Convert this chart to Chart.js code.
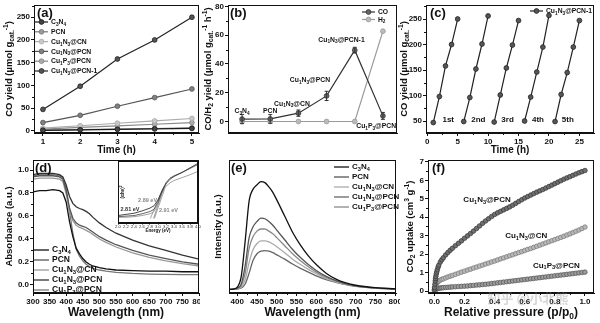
<!DOCTYPE html>
<html>
<head>
<meta charset="utf-8">
<script src="https://cdn.jsdelivr.net/npm/chart.js@4/dist/chart.umd.min.js"></script>
<style>
  body { margin: 0; background: #fff; }
  #fig { position: relative; width: 600px; height: 323px; overflow: hidden; }
  #fig canvas { position: absolute; }
</style>
</head>
<body>
<div id="fig">
  <canvas id="pa"></canvas>
  <canvas id="pb"></canvas>
  <canvas id="pc"></canvas>
  <canvas id="pd"></canvas>
  <canvas id="pdi"></canvas>
  <canvas id="pe"></canvas>
  <canvas id="pf"></canvas>
</div>
<script>
// (a) CO yield vs time
const hours = [1, 2, 3, 4, 5];
const yieldC3N4 = [1.0, 2.0, 3.1, 4.0, 5.0];
const yieldPCN = [1.3, 2.6, 3.8, 4.9, 6.2];
const yieldCuNCN = [5.6, 11, 16.5, 21.5, 27];
const yieldCuNPCN = [18, 34, 54, 73, 92];
const yieldCuPPCN = [3.6, 7.2, 10.8, 14.3, 18];
const yieldCuNPCN1 = [47, 98, 158, 200, 250];

// (b) CO / H2 rates
const catalysts = ['C_3N_4', 'PCN', 'Cu_1N_3@CN', 'Cu_1N_3@PCN', 'Cu_1N_3@PCN-1', 'Cu_1P_3@PCN'];
const coRate = [1.7, 1.8, 5.8, 17.8, 49.6, 3.9];
const coErr = [3.2, 3.0, 2.2, 3.2, 2.0, 2.4];
const h2Rate = [0, 0, 0, 0, 0, 62.8];

// (c) cycling runs
const runNames = ['1st', '2nd', '3rd', '4th', '5th'];
const runHours = [1, 2, 3, 4, 5, 6, 7, 8, 9, 10, 11, 12, 13, 14, 15, 16, 17, 18, 19, 20, 21, 22, 23, 24, 25];
const runYield = [47, 98, 158, 200, 250, 49, 96, 152, 201, 256, 48, 101, 154, 199, 247, 50, 97, 146, 195, 257, 49, 102, 145, 195, 247];

// (d) UV-vis absorbance
const absWl = [300, 320, 340, 360, 380, 390, 400, 410, 420, 430, 440, 450, 460, 470, 480, 500, 520, 550, 600, 650, 700, 750, 800];
const absC3N4 = [0.81, 0.82, 0.82, 0.83, 0.82, 0.80, 0.72, 0.55, 0.42, 0.32, 0.27, 0.23, 0.20, 0.18, 0.165, 0.15, 0.14, 0.13, 0.125, 0.12, 0.12, 0.115, 0.115];
const absPCN = [0.94, 0.95, 0.95, 0.95, 0.94, 0.92, 0.82, 0.67, 0.58, 0.54, 0.52, 0.51, 0.50, 0.48, 0.46, 0.42, 0.39, 0.35, 0.30, 0.26, 0.23, 0.20, 0.18];
const absCuNCN = [0.92, 0.93, 0.93, 0.93, 0.92, 0.90, 0.79, 0.64, 0.56, 0.52, 0.50, 0.49, 0.475, 0.46, 0.44, 0.40, 0.37, 0.33, 0.28, 0.24, 0.21, 0.185, 0.165];
const absCuNPCN = [0.96, 0.97, 0.97, 0.97, 0.96, 0.94, 0.87, 0.77, 0.71, 0.68, 0.665, 0.655, 0.64, 0.62, 0.59, 0.54, 0.50, 0.45, 0.39, 0.34, 0.30, 0.26, 0.225];
const absCuPPCN = [0.95, 0.96, 0.96, 0.96, 0.95, 0.93, 0.84, 0.64, 0.45, 0.31, 0.25, 0.21, 0.18, 0.16, 0.145, 0.13, 0.12, 0.11, 0.10, 0.095, 0.092, 0.09, 0.09];

// (d) inset, Tauc plot
const egE = [2.0, 2.2, 2.4, 2.6, 2.8, 2.9, 3.0, 3.1, 3.2, 3.3, 3.4, 3.6, 3.8, 4.0];
const egA = [0.05, 0.07, 0.09, 0.13, 0.18, 0.22, 0.32, 0.48, 0.62, 0.70, 0.74, 0.80, 0.88, 0.96];
const egB = [0.03, 0.04, 0.05, 0.08, 0.12, 0.16, 0.28, 0.46, 0.60, 0.68, 0.73, 0.80, 0.87, 0.94];
const egC = [0.02, 0.02, 0.03, 0.05, 0.08, 0.12, 0.25, 0.44, 0.56, 0.62, 0.66, 0.71, 0.76, 0.82];
const egGap = [2.81, 2.89, 2.91];
const egTangentTop = [[3.12, 0.52], [3.15, 0.56], [3.16, 0.50]];

// (e) PL spectra
const plWl = [380, 390, 400, 410, 420, 430, 440, 450, 460, 470, 480, 490, 500, 520, 540, 560, 580, 600, 625, 650, 675, 700, 750, 800];
const plC3N4 = [0, 0.3, 2, 12, 45, 82, 93, 97, 100, 99, 95, 90, 83, 68, 53, 41, 31, 23, 15, 9.5, 6, 3.8, 1.5, 0.5];
const plPCN = [0, 0.2, 1, 5, 22, 48, 58, 63, 66, 65.5, 63, 59.5, 55, 46, 37, 29.5, 23, 17.5, 12, 8, 5, 3.2, 1.3, 0.5];
const plCuNCN = [0, 0.1, 0.5, 2, 9, 25, 37, 42.5, 45, 45, 44, 42, 39.5, 34, 28, 23, 18.5, 14.5, 10, 7, 4.5, 3, 1.2, 0.5];
const plCuNPCN = [0, 0.1, 0.3, 1.2, 5, 15, 27, 33, 35.5, 36, 35.5, 34, 32, 28, 23.5, 19.5, 16, 12.5, 9, 6.5, 4.3, 2.8, 1.1, 0.5];
const plCuPPCN = [0, 0.2, 0.8, 3.5, 15, 38, 49, 54, 56, 56, 54, 51.5, 48, 40.5, 33, 26.5, 21, 16, 11, 7.5, 4.8, 3, 1.2, 0.5];

// (f) CO2 adsorption
const relP = [0.001, 0.002, 0.004, 0.006, 0.008, 0.010, 0.013, 0.016, 0.020, 0.025, 0.030, 0.040, 0.050, 0.060, 0.075, 0.09, 0.105, 0.12, 0.14, 0.16, 0.18, 0.20, 0.22, 0.24, 0.26, 0.28, 0.30, 0.32, 0.34, 0.36, 0.38, 0.40, 0.42, 0.44, 0.46, 0.48, 0.50, 0.52, 0.54, 0.56, 0.58, 0.60, 0.62, 0.64, 0.66, 0.68, 0.70, 0.72, 0.74, 0.76, 0.78, 0.80, 0.82, 0.84, 0.86, 0.88, 0.90, 0.92, 0.94, 0.96, 0.98, 1.00];
const upCuNPCN = [0.10, 0.20, 0.38, 0.55, 0.68, 0.80, 0.93, 1.04, 1.16, 1.30, 1.41, 1.58, 1.70, 1.81, 1.96, 2.09, 2.21, 2.32, 2.46, 2.59, 2.72, 2.86, 2.99, 3.12, 3.25, 3.39, 3.53, 3.67, 3.80, 3.92, 4.04, 4.15, 4.24, 4.32, 4.40, 4.48, 4.56, 4.65, 4.75, 4.85, 4.95, 5.04, 5.12, 5.20, 5.28, 5.36, 5.43, 5.50, 5.58, 5.66, 5.74, 5.82, 5.90, 5.98, 6.06, 6.13, 6.20, 6.27, 6.34, 6.41, 6.47, 6.53];
const upCuNCN = [0.05, 0.10, 0.18, 0.25, 0.30, 0.35, 0.40, 0.44, 0.48, 0.52, 0.55, 0.60, 0.64, 0.67, 0.72, 0.77, 0.81, 0.85, 0.91, 0.97, 1.03, 1.08, 1.14, 1.19, 1.25, 1.30, 1.36, 1.41, 1.47, 1.52, 1.58, 1.63, 1.69, 1.75, 1.80, 1.86, 1.92, 1.97, 2.03, 2.09, 2.14, 2.20, 2.26, 2.31, 2.37, 2.43, 2.49, 2.55, 2.61, 2.67, 2.73, 2.79, 2.85, 2.91, 2.97, 3.04, 3.10, 3.17, 3.24, 3.31, 3.39, 3.47];
const upCuPPCN = [0.02, 0.04, 0.07, 0.09, 0.10, 0.11, 0.12, 0.13, 0.14, 0.15, 0.16, 0.17, 0.18, 0.19, 0.20, 0.21, 0.22, 0.23, 0.24, 0.25, 0.26, 0.27, 0.28, 0.30, 0.31, 0.33, 0.34, 0.36, 0.37, 0.39, 0.41, 0.43, 0.45, 0.47, 0.49, 0.51, 0.53, 0.55, 0.57, 0.59, 0.61, 0.63, 0.65, 0.67, 0.69, 0.71, 0.73, 0.75, 0.77, 0.79, 0.81, 0.83, 0.85, 0.87, 0.89, 0.91, 0.93, 0.95, 0.97, 0.99, 1.01, 1.03];

const FONT = '"Liberation Sans", Arial, Helvetica, sans-serif';
Chart.defaults.font.family = FONT;
Chart.defaults.font.weight = 'bold';
Chart.defaults.color = '#111';
Chart.defaults.animation = false;
Chart.defaults.responsive = false;
Chart.defaults.plugins.legend.display = false;
Chart.defaults.plugins.tooltip.enabled = false;

// text with _sub and ^sup parts
function richParts(s) {
    const out = [];
    let cur = '', i = 0;
    while (i < s.length) {
        const ch = s[i];
        if (ch === '_' || ch === '^') {
            if (cur) { out.push({ t: cur, k: 0 }); cur = ''; }
            let t;
            if (s[i + 1] === '{') { const j = s.indexOf('}', i); t = s.slice(i + 2, j); i = j + 1; }
            else { t = s[i + 1]; i += 2; }
            out.push({ t, k: ch === '_' ? 1 : -1 });
        } else { cur += ch; i++; }
    }
    if (cur) out.push({ t: cur, k: 0 });
    return out;
}

function drawRich(c, s, x, y, o) {
    const size = o.size || 8, fam = o.family || FONT;
    const parts = richParts(s);
    const font = k => 'bold ' + (k ? size * 0.7 : size) + 'px ' + fam;
    c.save();
    c.translate(x, y);
    if (o.rot) c.rotate(o.rot);
    c.scale(o.sx || 1, 1);
    c.fillStyle = o.color || '#111';
    c.textBaseline = 'middle';
    c.textAlign = 'left';
    let w = 0;
    parts.forEach(p => { c.font = font(p.k); p.w = c.measureText(p.t).width; w += p.w; });
    let cx = o.align === 'center' ? -w / 2 : (o.align === 'right' ? -w : 0);
    parts.forEach(p => {
        c.font = font(p.k);
        c.fillText(p.t, cx, p.k === 1 ? size * 0.3 : (p.k === -1 ? -size * 0.35 : 0));
        cx += p.w;
    });
    c.restore();
}

const figPlugin = {
    id: 'fig',
    beforeDraw(chart, args, o) {
        if (!o.fill) return;
        const a = chart.chartArea, c = chart.ctx;
        c.save();
        c.fillStyle = o.fill;
        c.fillRect(a.left, a.top, a.right - a.left, a.bottom - a.top);
        c.restore();
    },
    afterDatasetsDraw(chart) {
        const c = chart.ctx, ys = chart.scales.y;
        chart.data.datasets.forEach((ds, di) => {
            if (!ds.errors) return;
            const meta = chart.getDatasetMeta(di);
            c.save();
            c.strokeStyle = ds.borderColor;
            c.lineWidth = 1;
            meta.data.forEach((pt, i) => {
                const v = ds.data[i].y, e = ds.errors[i];
                const t = ys.getPixelForValue(v + e), b = ys.getPixelForValue(v - e);
                c.beginPath();
                c.moveTo(pt.x, t); c.lineTo(pt.x, b);
                c.moveTo(pt.x - 2, t); c.lineTo(pt.x + 2, t);
                c.moveTo(pt.x - 2, b); c.lineTo(pt.x + 2, b);
                c.stroke();
            });
            c.restore();
        });
    },
    afterDraw(chart, args, o) {
        const c = chart.ctx, a = chart.chartArea;
        c.save();
        c.strokeStyle = '#111';
        c.lineWidth = 1;
        c.strokeRect(Math.round(a.left) + 0.5, Math.round(a.top) + 0.5, Math.round(a.right - a.left) - 1, Math.round(a.bottom - a.top) - 1);
        // minor ticks between the major ones
        ['x', 'y'].forEach(k => {
            const n = o.minor && o.minor[k];
            if (!n) return;
            const s = chart.scales[k], v = s.ticks.map(t => t.value);
            if (v.length < 2) return;
            const step = v[1] - v[0];
            for (let m = 0; m <= v.length; m++) {
                for (let j = 1; j < n; j++) {
                    const val = v[0] + step * (m - 1) + step * j / n;
                    if (val < s.min || val > s.max) continue;
                    const p = Math.round(s.getPixelForValue(val)) + 0.5;
                    c.beginPath();
                    if (k === 'x') { c.moveTo(p, a.bottom); c.lineTo(p, a.bottom + 2); }
                    else { c.moveTo(a.left, p); c.lineTo(a.left - 2, p); }
                    c.stroke();
                }
            }
        });
        c.restore();
        if (o.yTitle) drawRich(c, o.yTitle.t, o.yTitle.x, (a.top + a.bottom) / 2, { size: o.yTitle.size, rot: -Math.PI / 2, align: 'center', sx: o.yTitle.sx });
        if (o.xTitle) drawRich(c, o.xTitle.t, (a.left + a.right) / 2, o.xTitle.y, { size: o.xTitle.size, align: 'center', sx: o.xTitle.sx });
        (o.notes || []).forEach(n => {
            const x = n.px !== undefined ? n.px : chart.scales.x.getPixelForValue(n.x);
            const y = n.py !== undefined ? n.py : chart.scales.y.getPixelForValue(n.y);
            drawRich(c, n.t, x, y, n);
        });
        if (o.legend) {
            const g = o.legend;
            let y = g.y;
            chart.data.datasets.forEach(ds => {
                if (!ds.label || ds.noLegend) return;
                c.save();
                c.strokeStyle = ds.borderColor;
                c.lineWidth = ds.borderWidth || 1;
                c.beginPath(); c.moveTo(g.x, y); c.lineTo(g.x + g.len, y); c.stroke();
                if (ds.pointRadius) {
                    c.beginPath();
                    c.arc(g.x + g.len / 2, y, ds.pointRadius, 0, Math.PI * 2);
                    c.fillStyle = ds.pointBackgroundColor; c.fill();
                    c.lineWidth = ds.pointBorderWidth || 1;
                    c.strokeStyle = ds.pointBorderColor; c.stroke();
                }
                c.restore();
                drawRich(c, ds.label, g.x + g.len + 3, y, { size: g.size, sx: g.sx });
                y += g.dy;
            });
        }
    }
};

// canvas box [x, y, w, h] and plot area [left, top, right, bottom], page pixels
function layoutFor(id, box, area) {
    const cv = document.getElementById(id);
    cv.width = box[2]; cv.height = box[3];
    cv.style.left = box[0] + 'px'; cv.style.top = box[1] + 'px';
    return {
        canvas: cv,
        padding: { left: 0, top: area[1] - box[1], right: box[0] + box[2] - area[2], bottom: 0 },
        yw: area[0] - box[0],
        xh: box[1] + box[3] - area[3]
    };
}

function linAxis(L, dir, min, max, step, extra) {
    const o = {
        type: 'linear', position: dir === 'x' ? 'bottom' : 'left', min, max,
        border: { color: '#111', width: 1 },
        grid: { drawOnChartArea: false, color: '#111', tickLength: 3 },
        ticks: { autoSkip: false, maxRotation: 0, padding: 1, color: '#111', font: { size: 8, weight: 'bold' } },
        // major ticks at every multiple of step inside [min, max]
        afterBuildTicks: s => {
            const t = [];
            for (let k = Math.ceil(s.min / step - 1e-9); k * step <= s.max + 1e-9; k++) t.push({ value: +(k * step).toFixed(6) });
            s.ticks = t;
        },
        afterFit: s => {
            if (dir === 'x') { s.height = L.xh; s.paddingLeft = 0; s.paddingRight = 0; }
            else { s.width = L.yw; s.paddingTop = 0; s.paddingBottom = 0; }
        }
    };
    Object.keys(extra || {}).forEach(k => {
        o[k] = (typeof extra[k] === 'object' && o[k]) ? Object.assign({}, o[k], extra[k]) : extra[k];
    });
    return o;
}

function series(xs, ys) { return xs.map((x, i) => ({ x, y: ys[i] })); }

function lineSet(label, xs, ys, col, fill, extra) {
    return Object.assign({
        label, data: series(xs, ys), borderColor: col, borderWidth: 1.2,
        pointRadius: fill ? 2.4 : 0, pointBackgroundColor: fill, pointBorderColor: col, pointBorderWidth: 0.8
    }, extra);
}

function makeChart(L, datasets, scales, fig) {
    return new Chart(L.canvas, {
        type: 'line',
        data: { datasets },
        options: {
            layout: { padding: L.padding, autoPadding: false },
            scales,
            plugins: { fig }
        },
        plugins: [figPlugin]
    });
}

const oneDecimal = { autoSkip: false, maxRotation: 0, padding: 1, color: '#111', font: { size: 8, weight: 'bold' }, callback: v => v.toFixed(1) };

// (a)
const LA = layoutFor('pa', [0, 0, 200, 160], [34, 5, 199, 133]);
makeChart(LA, [
    lineSet('C_3N_4', hours, yieldC3N4, '#1a1a1a', '#444'),
    lineSet('PCN', hours, yieldPCN, '#777', '#999'),
    lineSet('Cu_1N_3@CN', hours, yieldCuNCN, '#aaa', '#c8c8c8'),
    lineSet('Cu_1N_3@PCN', hours, yieldCuNPCN, '#555', '#808080'),
    lineSet('Cu_1P_3@PCN', hours, yieldCuPPCN, '#888', '#aaa'),
    lineSet('Cu_1N_3@PCN-1', hours, yieldCuNPCN1, '#222', '#555')
], {
    x: linAxis(LA, 'x', 0.76, 5.19, 1),
    y: linAxis(LA, 'y', -5, 277, 50)
}, {
    minor: { x: 2, y: 2 },
    yTitle: { t: 'CO yield (µmol g_{cat.}^{-1})', x: 9, size: 9.5 },
    xTitle: { t: 'Time (h)', y: 150, size: 10 },
    legend: { x: 35, y: 22, dy: 9.8, len: 13, size: 8, sx: 0.85 },
    notes: [{ px: 37, py: 13, t: '(a)', size: 13 }]
});

// (b)
const LB = layoutFor('pb', [198, 0, 202, 160], [228, 5, 397, 133]);
const catPos = catalysts.map((_, i) => i + 1);
const bLabelPos = [[1, 7.5], [2, 7.5], [2.77, 12.5], [3.41, 29], [4.53, 57], [5.76, -3]];
makeChart(LB, [
    lineSet('CO', catPos, coRate, '#333', '#666', { errors: coErr }),
    lineSet('H_2', catPos, h2Rate, '#999', '#bbb')
], {
    x: linAxis(LB, 'x', 0.5, 6.5, 1, { ticks: { display: false }, grid: { drawOnChartArea: false, drawTicks: false } }),
    y: linAxis(LB, 'y', -8, 81, 20)
}, {
    minor: { y: 2 },
    yTitle: { t: 'CO/H_2 yield (µmol g_{cat.}^{-1} h^{-1})', x: 10, size: 9.5 },
    legend: { x: 164, y: 12, dy: 7.5, len: 13, size: 7.5, sx: 0.9 },
    notes: catalysts.map((t, i) => ({ x: bLabelPos[i][0], y: bLabelPos[i][1], t, size: 8, align: 'center', sx: 0.85 }))
        .concat([{ px: 32, py: 13, t: '(b)', size: 13 }])
});

// (c)
const LC = layoutFor('pc', [398, 0, 202, 160], [426, 5, 594, 133]);
const runData = [];
runHours.forEach((h, i) => {
    runData.push({ x: h, y: runYield[i] });
    if (i % 5 === 4) runData.push({ x: h + 0.5, y: null });
});
const runLabelX = [3.45, 8.4, 13.2, 18.2, 23.1];
makeChart(LC, [
    { label: 'Cu_1N_3@PCN-1', data: runData, borderColor: '#222', borderWidth: 1.2, pointRadius: 2.4,
      pointBackgroundColor: '#555', pointBorderColor: '#222', pointBorderWidth: 0.8 }
], {
    x: linAxis(LC, 'x', -0.2, 27.4, 5),
    y: linAxis(LC, 'y', 26.5, 277.5, 50)
}, {
    minor: { x: 2, y: 2 },
    yTitle: { t: 'CO yield (µmol g_{cat.}^{-1})', x: 6, size: 9.5 },
    xTitle: { t: 'Time (h)', y: 150, size: 10 },
    legend: { x: 132, y: 11, dy: 8, len: 13, size: 7.5, sx: 0.9 },
    notes: runNames.map((t, i) => ({ x: runLabelX[i], y: 53, t, size: 8, align: 'center' }))
        .concat([{ px: 32, py: 13, t: '(c)', size: 13 }])
});

// (d)
const LD = layoutFor('pd', [0, 155, 200, 168], [33, 160, 199, 293]);
const absSet = (label, ys, col) => lineSet(label, absWl, ys, col, null, { borderWidth: 1.3 });
makeChart(LD, [
    absSet('C_3N_4', absC3N4, '#111'),
    absSet('PCN', absPCN, '#555'),
    absSet('Cu_1N_3@CN', absCuNCN, '#999'),
    absSet('Cu_1N_3@PCN', absCuNPCN, '#333'),
    absSet('Cu_1P_3@PCN', absCuPPCN, '#777')
], {
    x: linAxis(LD, 'x', 300, 800, 50),
    y: linAxis(LD, 'y', -0.07, 1.087, 0.2, { ticks: oneDecimal })
}, {
    minor: { y: 2 },
    yTitle: { t: 'Absorbance (a.u.)', x: 9, size: 9.5 },
    xTitle: { t: 'Wavelength (nm)', y: 158, size: 12 },
    legend: { x: 34, y: 95, dy: 10, len: 15, size: 8.5 },
    notes: [{ px: 35, py: 13, t: '(d)', size: 13 }]
});

// (d) inset
const LI = layoutFor('pdi', [112, 158, 90, 78], [118, 161, 198, 223]);
const tangents = egGap.map((g, i) => lineSet('', [g, egTangentTop[i][0]], [0, egTangentTop[i][1]], '#666', null, { borderWidth: 0.6 }));
makeChart(LI, [
    lineSet('', egE, egA, '#333', null, { borderWidth: 0.9 }),
    lineSet('', egE, egB, '#555', null, { borderWidth: 0.9 }),
    lineSet('', egE, egC, '#999', null, { borderWidth: 0.9 })
].concat(tangents), {
    x: linAxis(LI, 'x', 2.0, 4.0, 0.2, { grid: { drawOnChartArea: false, color: '#111', tickLength: 1.5 },
        ticks: { autoSkip: false, maxRotation: 0, padding: 0, color: '#333', font: { size: 4.2, weight: 'normal' }, callback: v => v.toFixed(1) } }),
    y: linAxis(LI, 'y', -0.08, 1.0, 0.5, { ticks: { display: false }, grid: { drawOnChartArea: false, drawTicks: false } })
}, {
    fill: '#fff',
    yTitle: { t: '(αhν)^2', x: 11, size: 4.5 },
    xTitle: { t: 'Energy (eV)', y: 73, size: 4.5 },
    notes: egGap.map((g, i) => ({
        x: [2.3, 2.74, 3.26][i], y: [0.15, 0.32, 0.13][i], t: g.toFixed(2) + ' eV',
        size: 5.5, align: 'center', color: ['#333', '#888', '#888'][i]
    }))
});

// (e)
const LE = layoutFor('pe', [200, 155, 200, 168], [229, 160, 396, 293]);
const plSet = (label, ys, col) => lineSet(label, plWl, ys, col, null, { borderWidth: 1.3, cubicInterpolationMode: 'monotone' });
makeChart(LE, [
    plSet('C_3N_4', plC3N4, '#111'),
    plSet('PCN', plPCN, '#555'),
    plSet('Cu_1N_3@CN', plCuNCN, '#aaa'),
    plSet('Cu_1N_3@PCN', plCuNPCN, '#666'),
    plSet('Cu_1P_3@PCN', plCuPPCN, '#888')
], {
    x: linAxis(LE, 'x', 379, 802, 50),
    y: linAxis(LE, 'y', -3.4, 120, 20, { ticks: { display: false }, grid: { drawOnChartArea: false, drawTicks: false } })
}, {
    minor: { x: 2 },
    yTitle: { t: 'Intensity (a.u.)', x: 18, size: 9.5 },
    xTitle: { t: 'Wavelength (nm)', y: 158, size: 12 },
    legend: { x: 134, y: 12, dy: 10, len: 15, size: 8 },
    notes: [{ px: 31, py: 13, t: '(e)', size: 13 }]
});

// (f)
const LF = layoutFor('pf', [400, 155, 200, 168], [428, 160, 594, 293]);
const upSet = (label, ys, col, fill) => lineSet(label, relP, ys, col, fill, { borderWidth: 0.8, pointRadius: 2.3, pointBorderWidth: 0.7 });
makeChart(LF, [
    upSet('Cu_1N_3@PCN', upCuNPCN, '#333', '#707070'),
    upSet('Cu_1N_3@CN', upCuNCN, '#777', '#b8b8b8'),
    upSet('Cu_1P_3@PCN', upCuPPCN, '#555', '#9a9a9a')
], {
    x: linAxis(LF, 'x', -0.042, 1.06, 0.2, { ticks: oneDecimal }),
    y: linAxis(LF, 'y', -0.1, 7.1, 1)
}, {
    minor: { x: 2, y: 2 },
    yTitle: { t: 'CO_2 uptake (cm^3 g^{-1})', x: 10, size: 9.5 },
    xTitle: { t: 'Relative pressure (p/p_0)', y: 158, size: 12 },
    notes: [
        { x: 0.35, y: 4.95, t: 'Cu_1N_3@PCN', size: 8, align: 'center' },
        { x: 0.61, y: 3.0, t: 'Cu_1N_3@CN', size: 8, align: 'center' },
        { x: 0.81, y: 1.39, t: 'Cu_1P_3@PCN', size: 8, align: 'center' },
        { px: 32, py: 13, t: '(f)', size: 13 },
        { px: 128, py: 143, t: '知乎 @小北熊', size: 13, align: 'center', color: 'rgba(140,140,140,0.35)', family: '"Noto Sans CJK SC", sans-serif' }
    ]
});
</script>
</body>
</html>
